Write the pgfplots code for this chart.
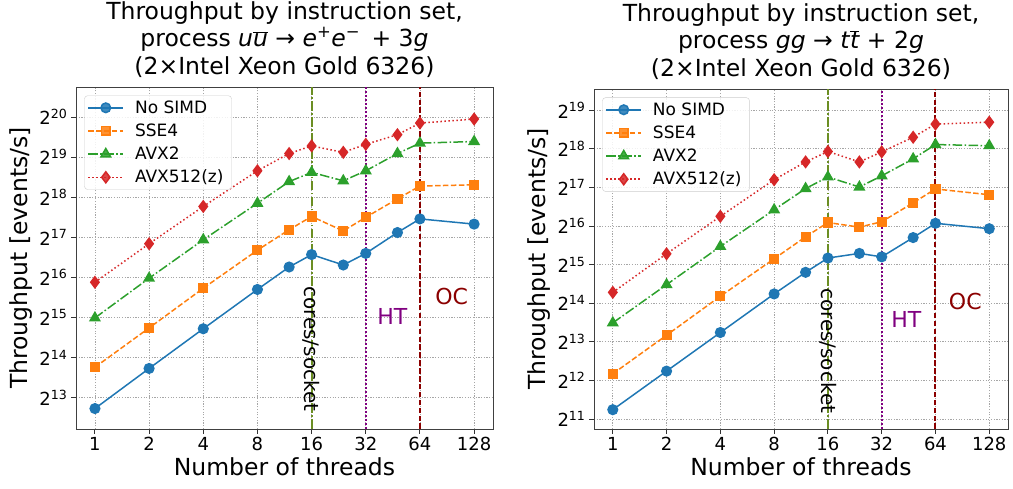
\documentclass[border=0pt]{standalone}
\usepackage{fontspec}
\setmainfont{DejaVu Sans}
\usepackage{pgfplots}
\pgfplotsset{compat=1.18}

\definecolor{tabblue}{HTML}{1F77B4}
\definecolor{taborange}{HTML}{FF7F0E}
\definecolor{tabgreen}{HTML}{2CA02C}
\definecolor{tabred}{HTML}{D62728}
\definecolor{vcore}{HTML}{6B8E23}
\definecolor{vht}{HTML}{800080}
\definecolor{voc}{HTML}{8B0000}

\pgfplotsset{
  legend image code/.code={
    \draw[mark repeat=2,mark phase=2,#1] plot coordinates {(0pt,0pt)(17.5pt,0pt)(35pt,0pt)};},
  every axis plot/.append style={line width=1.5pt},
}

\begin{document}
\begin{tikzpicture}
\useasboundingbox (0,0) rectangle (1013pt,489pt);

\begin{axis}[scale only axis, at={(76pt,60pt)}, anchor=south west,
  width=417pt, height=342pt,
  xmode=log, log basis x=2, xmin=0.785, xmax=163,
  xtick={1,2,4,8,16,32,64,128}, xticklabels={1,2,4,8,16,32,64,128},
  ymin=12.22, ymax=20.75, ytick={13,...,20},
  grid=major,
  major grid style={gray!70, dash pattern=on 1.2pt off 1.5pt, line width=0.7pt},
  axis line style={black!75, line width=0.9pt},
  tick align=outside, xtick pos=bottom, ytick pos=left,
  major tick length=5pt, tick style={black!80, line width=0.9pt},
  /pgf/number format/assume math mode=true,
  ticklabel style={font=\fontsize{18}{20}\selectfont},
  yticklabel={2\textsuperscript{\pgfmathprintnumber{\tick}}},
  label style={font=\fontsize{23.5}{27}\selectfont},
  xlabel={Number of threads}, ylabel={Throughput [events/s]},
  title style={align=center, font=\fontsize{23.5}{27.5}\selectfont},
  legend cell align=left,
  legend style={at={(0.02,0.975)}, anchor=north west, draw=black!20,
    rounded corners=3pt, fill=white, fill opacity=0.85, text opacity=1,
    font=\fontsize{17}{19}\selectfont, row sep=5pt, inner sep=3pt,
    nodes={inner xsep=5pt},
    /tikz/every odd column/.append style={column sep=6pt}},
  title={Throughput by instruction set,\\process \textit{u}\ensuremath{\overline{\hbox{\itshape u}}} → \textit{e}\textsuperscript{+}\textit{e}\textsuperscript{−}\, + 3\textit{g}\\(2×Intel Xeon Gold 6326)}]
\addplot[tabblue, solid, mark=*, mark size=4.8pt] coordinates {
  (1,12.73) (2,13.73) (4,14.72) (8,15.70) (12,16.26) (16,16.57)
  (24,16.31) (32,16.60) (48,17.12) (64,17.46) (128,17.33)};
\addplot[taborange, dash pattern=on 5.5pt off 2.4pt, mark=square*, mark size=4.3pt, mark options={solid}] coordinates {
  (1,13.76) (2,14.74) (4,15.73) (8,16.68) (12,17.19) (16,17.52)
  (24,17.16) (32,17.50) (48,17.96) (64,18.28) (128,18.31)};
\addplot[tabgreen, dash pattern=on 9.6pt off 2.4pt on 1.5pt off 2.4pt, mark=triangle*, mark size=5.5pt, mark options={solid}] coordinates {
  (1,14.99) (2,15.98) (4,16.94) (8,17.85) (12,18.39) (16,18.62)
  (24,18.41) (32,18.66) (48,19.09) (64,19.35) (128,19.39)};
\addplot[tabred, dash pattern=on 1.5pt off 2.5pt, mark=diamond*, mark size=5.5pt, mark options={solid}] coordinates {
  (1,15.88) (2,16.84) (4,17.77) (8,18.66) (12,19.09) (16,19.28)
  (24,19.12) (32,19.32) (48,19.56) (64,19.85) (128,19.95)};
\legend{No SIMD,SSE4,AVX2,AVX512(z)}
\draw[vcore, line width=2pt, dash pattern=on 9.6pt off 2.4pt on 1.5pt off 2.4pt]
  (axis cs:16,12.22) -- (axis cs:16,20.75);
\draw[vht, line width=2pt, dash pattern=on 1.5pt off 2.5pt]
  (axis cs:32,12.22) -- (axis cs:32,20.75);
\draw[voc, line width=2pt, dash pattern=on 5.5pt off 2.4pt]
  (axis cs:64,12.22) -- (axis cs:64,20.75);
\node[rotate=-90, font=\fontsize{20}{24}\selectfont] at (axis cs:16,14.22) {cores/socket};
\node[vht, font=\fontsize{22}{26}\selectfont] at (axis cs:45,15.02) {HT};
\node[voc, font=\fontsize{22}{26}\selectfont] at (axis cs:96,15.52) {OC};
\end{axis}

\begin{axis}[scale only axis, at={(594pt,60pt)}, anchor=south west,
  width=414pt, height=340pt,
  xmode=log, log basis x=2, xmin=0.785, xmax=163,
  xtick={1,2,4,8,16,32,64,128}, xticklabels={1,2,4,8,16,32,64,128},
  ymin=10.74, ymax=19.55, ytick={11,...,19},
  grid=major,
  major grid style={gray!70, dash pattern=on 1.2pt off 1.5pt, line width=0.7pt},
  axis line style={black!75, line width=0.9pt},
  tick align=outside, xtick pos=bottom, ytick pos=left,
  major tick length=5pt, tick style={black!80, line width=0.9pt},
  /pgf/number format/assume math mode=true,
  ticklabel style={font=\fontsize{18}{20}\selectfont},
  yticklabel={2\textsuperscript{\pgfmathprintnumber{\tick}}},
  label style={font=\fontsize{23.5}{27}\selectfont},
  xlabel={Number of threads}, ylabel={Throughput [events/s]},
  title style={align=center, font=\fontsize{23.5}{27.5}\selectfont},
  legend cell align=left,
  legend style={at={(0.02,0.975)}, anchor=north west, draw=black!20,
    rounded corners=3pt, fill=white, fill opacity=0.85, text opacity=1,
    font=\fontsize{17}{19}\selectfont, row sep=5pt, inner sep=3pt,
    nodes={inner xsep=5pt},
    /tikz/every odd column/.append style={column sep=6pt}},
  title={Throughput by instruction set,\\process \textit{gg} → \textit{t}\ensuremath{\overline{\hbox{\itshape t}}} + 2\textit{g}\\(2×Intel Xeon Gold 6326)}]
\addplot[tabblue, solid, mark=*, mark size=4.8pt] coordinates {
  (1,11.24) (2,12.24) (4,13.24) (8,14.24) (12,14.80) (16,15.17)
  (24,15.29) (32,15.20) (48,15.70) (64,16.07) (128,15.93)};
\addplot[taborange, dash pattern=on 5.5pt off 2.4pt, mark=square*, mark size=4.3pt, mark options={solid}] coordinates {
  (1,12.17) (2,13.17) (4,14.18) (8,15.15) (12,15.72) (16,16.09)
  (24,15.97) (32,16.11) (48,16.60) (64,16.96) (128,16.81)};
\addplot[tabgreen, dash pattern=on 9.6pt off 2.4pt on 1.5pt off 2.4pt, mark=triangle*, mark size=5.5pt, mark options={solid}] coordinates {
  (1,13.49) (2,14.48) (4,15.47) (8,16.42) (12,16.97) (16,17.27)
  (24,17.01) (32,17.30) (48,17.74) (64,18.11) (128,18.08)};
\addplot[tabred, dash pattern=on 1.5pt off 2.5pt, mark=diamond*, mark size=5.5pt, mark options={solid}] coordinates {
  (1,14.28) (2,15.28) (4,16.25) (8,17.20) (12,17.66) (16,17.93)
  (24,17.66) (32,17.92) (48,18.30) (64,18.64) (128,18.69)};
\legend{No SIMD,SSE4,AVX2,AVX512(z)}
\draw[vcore, line width=2pt, dash pattern=on 9.6pt off 2.4pt on 1.5pt off 2.4pt]
  (axis cs:16,10.74) -- (axis cs:16,19.55);
\draw[vht, line width=2pt, dash pattern=on 1.5pt off 2.5pt]
  (axis cs:32,10.74) -- (axis cs:32,19.55);
\draw[voc, line width=2pt, dash pattern=on 5.5pt off 2.4pt]
  (axis cs:64,10.74) -- (axis cs:64,19.55);
\node[rotate=-90, font=\fontsize{20}{24}\selectfont] at (axis cs:16,12.77) {cores/socket};
\node[vht, font=\fontsize{22}{26}\selectfont] at (axis cs:44,13.57) {HT};
\node[voc, font=\fontsize{22}{26}\selectfont] at (axis cs:94,14.04) {OC};
\end{axis}
\end{tikzpicture}
\end{document}
